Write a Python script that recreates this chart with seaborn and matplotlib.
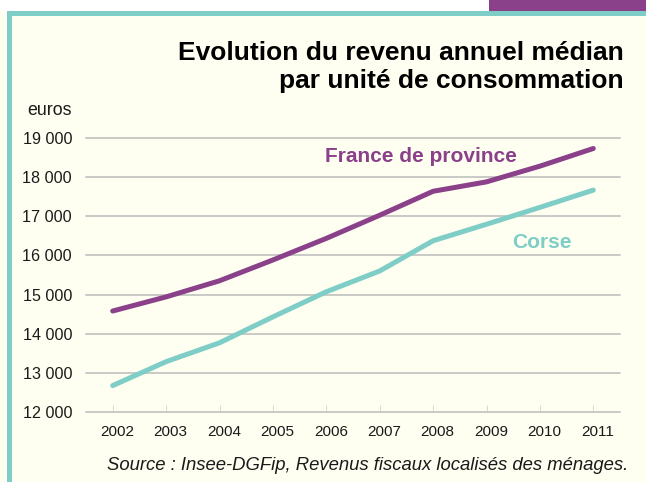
import matplotlib
matplotlib.use("Agg")
import matplotlib.pyplot as plt
import matplotlib.ticker as mticker
from matplotlib.patches import Rectangle
from matplotlib.transforms import ScaledTranslation
import seaborn as sns
import pandas as pd

years = [2002, 2003, 2004, 2005, 2006, 2007, 2008, 2009, 2010, 2011]
france_province = [14580, 14940, 15350, 15880, 16430, 17020, 17630, 17870, 18270, 18720]
corse = [12680, 13290, 13770, 14430, 15070, 15600, 16370, 16790, 17220, 17660]
series_names = ["France de province", "Corse"]
y_ticks = [12000, 13000, 14000, 15000, 16000, 17000, 18000, 19000]

PURPLE = "#8A418A"
TEAL = "#7ECDC6"
CREAM = "#FEFEF1"
GRID = "#C9C9C6"

df = pd.DataFrame({
    "year": years * 2,
    "value": france_province + corse,
    "serie": [series_names[0]] * len(years) + [series_names[1]] * len(years),
})

sns.set_theme(style="white")
plt.rcParams["font.family"] = ["Liberation Sans", "DejaVu Sans"]

W, H = 646, 482
fig = plt.figure(figsize=(W / 100, H / 100), dpi=100, facecolor=CREAM)

def px_rect(x0, y0, x1, y1, color):
    fig.patches.append(Rectangle((x0 / W, 1 - y1 / H), (x1 - x0) / W, (y1 - y0) / H,
                                 transform=fig.transFigure, facecolor=color,
                                 edgecolor="none", zorder=0))

# decorative frame
px_rect(0, 0, 646, 11, "white")
px_rect(489, 0, 646, 11, PURPLE)
px_rect(7, 11, 646, 16, TEAL)
px_rect(7, 11, 12, 482, TEAL)

ax = fig.add_axes([86 / W, 1 - 412.3 / H, (620 - 86) / W, (412.3 - 137.5) / H])
ax.set_facecolor("none")

sns.lineplot(data=df, x="year", y="value", hue="serie", hue_order=series_names,
             palette=[PURPLE, TEAL], linewidth=3.6, legend=False, ax=ax,
             solid_capstyle="round", zorder=3)

ax.set_xlim(2001.5, 2011.5)
ax.set_ylim(12000, 19000)
ax.set_yticks(y_ticks)
ax.set_xticks(years)
ax.yaxis.set_major_formatter(mticker.FuncFormatter(lambda v, p: f"{int(v):,}".replace(",", " ")))
ax.set_xlabel("")
ax.set_ylabel("")
for s in ax.spines.values():
    s.set_visible(False)
for yv in y_ticks:
    ax.axhline(yv, color=GRID, linewidth=1.4, zorder=1, clip_on=False)

ax.tick_params(axis="y", length=0, pad=10, labelsize=11.6, labelcolor="#1a1a1a")
ax.tick_params(axis="x", direction="in", length=5, width=0.8, color="#DADAD6",
               pad=9, labelsize=11, labelcolor="#1a1a1a", bottom=True)
for lab in ax.get_xticklabels():
    lab.set_transform(lab.get_transform() + ScaledTranslation(0.045, 0, fig.dpi_scale_trans))

# series labels
ax.text(325 / W, 1 - 156.7 / H, "France de province", transform=fig.transFigure,
        color=PURPLE, fontsize=15, fontweight="bold", ha="left", va="center")
ax.text(512 / W, 1 - 242.3 / H, "Corse", transform=fig.transFigure,
        color=TEAL, fontsize=15, fontweight="bold", ha="left", va="center")

# titles
fig.text(624 / W, 1 - 60 / H, "Evolution du revenu annuel médian", ha="right",
         va="baseline", fontsize=19, fontweight="bold", color="black")
fig.text(624 / W, 1 - 88.3 / H, "par unité de consommation", ha="right",
         va="baseline", fontsize=19, fontweight="bold", color="black")
fig.text(27 / W, 1 - 110.7 / H, "euros", ha="left", va="center", fontsize=12.8,
         color="#1a1a1a")
fig.text(628 / W, 1 - 466 / H, "Source : Insee-DGFip, Revenus fiscaux localisés des ménages.",
         ha="right", va="center", fontsize=13.3, style="italic", color="#1a1a1a")

fig.savefig("out.png", dpi=100, facecolor=CREAM)
